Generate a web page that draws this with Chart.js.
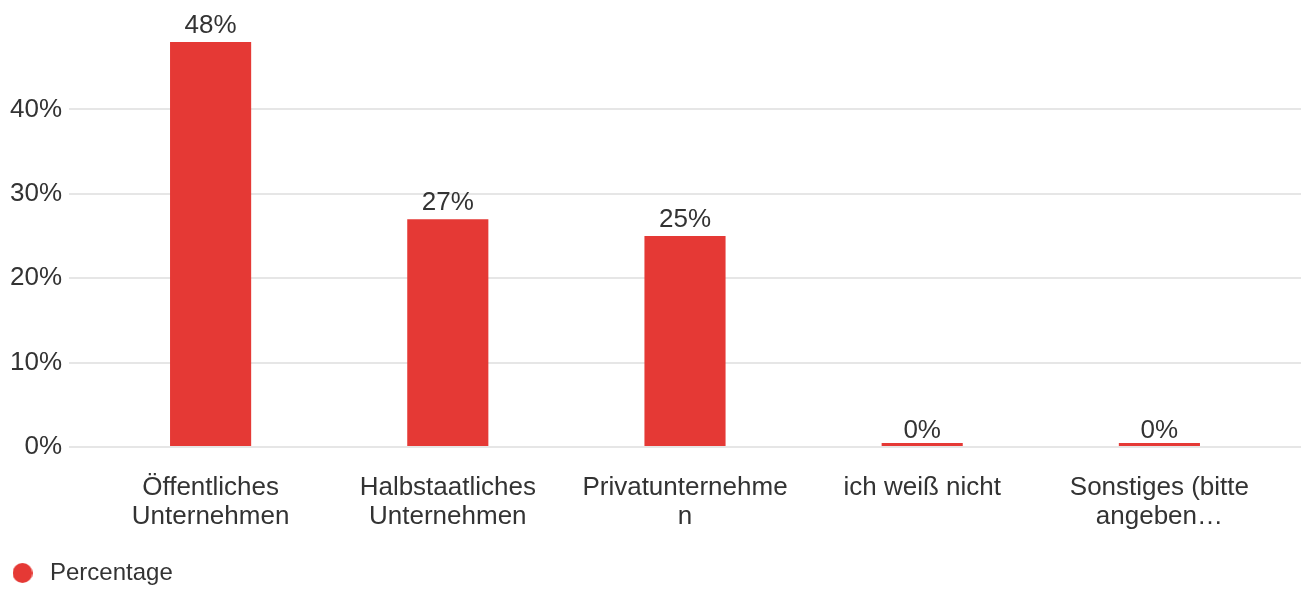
<!DOCTYPE html>
<html>
<head>
<meta charset="utf-8">
<script src="https://cdn.jsdelivr.net/npm/chart.js@4"></script>
<style>
  body { margin: 0; background: #fff; }
  #wrap { width: 1304px; height: 590px; }
</style>
</head>
<body>
<div id="wrap"><canvas id="chart"></canvas></div>
<script>
// Daten
const categories = [
  ["Öffentliches", "Unternehmen"],
  ["Halbstaatliches", "Unternehmen"],
  ["Privatunternehme", "n"],
  "ich weiß nicht",
  ["Sonstiges (bitte", "angeben…"]
];
const percentages = [48, 27, 25, 0, 0];
const valueLabels = ["48%", "27%", "25%", "0%", "0%"];
const yTicks = [0, 10, 20, 30, 40];

const red = "#e53935";
const textColor = "#333333";
const gridColor = "#e6e6e6";
const fontFamily = "'Liberation Sans', Arial, sans-serif";

// Punkt für die Legende
const dot = document.createElement("canvas");
dot.width = 20;
dot.height = 20;
const dctx = dot.getContext("2d");
dctx.fillStyle = red;
dctx.beginPath();
dctx.arc(10, 10, 10, 0, Math.PI * 2);
dctx.fill();

// Werte über den Balken
const valueLabelPlugin = {
  id: "valueLabels",
  afterDatasetsDraw(chart) {
    const ctx = chart.ctx;
    const yScale = chart.scales.y;
    const meta = chart.getDatasetMeta(0);
    ctx.save();
    ctx.font = "26px " + fontFamily;
    ctx.fillStyle = textColor;
    ctx.textAlign = "center";
    ctx.textBaseline = "alphabetic";
    meta.data.forEach((bar, i) => {
      ctx.fillText(valueLabels[i], bar.x, yScale.getPixelForValue(percentages[i]) - 9.5);
    });
    ctx.restore();
  }
};

const yTickOptions = {
  color: textColor,
  font: { size: 26, family: fontFamily },
  padding: 7,
  stepSize: 10,
  includeBounds: false,
  callback: v => yTicks.includes(v) ? v + "%" : ""
};

new Chart(document.getElementById("chart"), {
  type: "bar",
  data: {
    labels: categories,
    datasets: [{
      label: "Percentage",
      data: percentages,
      backgroundColor: red,
      borderWidth: 0,
      minBarLength: 4,
      barPercentage: 0.342,
      categoryPercentage: 1
    }]
  },
  options: {
    responsive: true,
    maintainAspectRatio: false,
    animation: false,
    layout: { padding: { top: 42, left: 0, right: 0, bottom: -5 } },
    plugins: {
      tooltip: { enabled: false },
      legend: {
        position: "bottom",
        align: "start",
        labels: {
          usePointStyle: true,
          pointStyle: dot,
          pointStyleWidth: 31,
          padding: 7,
          color: textColor,
          font: { size: 24, family: fontFamily }
        }
      }
    },
    scales: {
      x: {
        grid: { display: false },
        border: { display: false },
        ticks: {
          color: textColor,
          font: { size: 26, family: fontFamily, lineHeight: 1.115 },
          padding: 18,
          maxRotation: 0,
          autoSkip: false
        },
        afterFit: scale => { scale.height = 107; }
      },
      y: {
        min: 0,
        max: 48,
        ticks: yTickOptions,
        grid: { color: gridColor, tickLength: 23, lineWidth: 2 },
        border: { display: false },
        afterFit: scale => { scale.width = 92; }
      },
      yRight: {
        position: "right",
        min: 0,
        max: 48,
        ticks: { display: false, stepSize: 10, includeBounds: false },
        grid: { color: gridColor, tickLength: 23, lineWidth: 2, drawOnChartArea: false },
        border: { display: false },
        afterFit: scale => { scale.width = 26; }
      }
    }
  },
  plugins: [valueLabelPlugin]
});
</script>
</body>
</html>
